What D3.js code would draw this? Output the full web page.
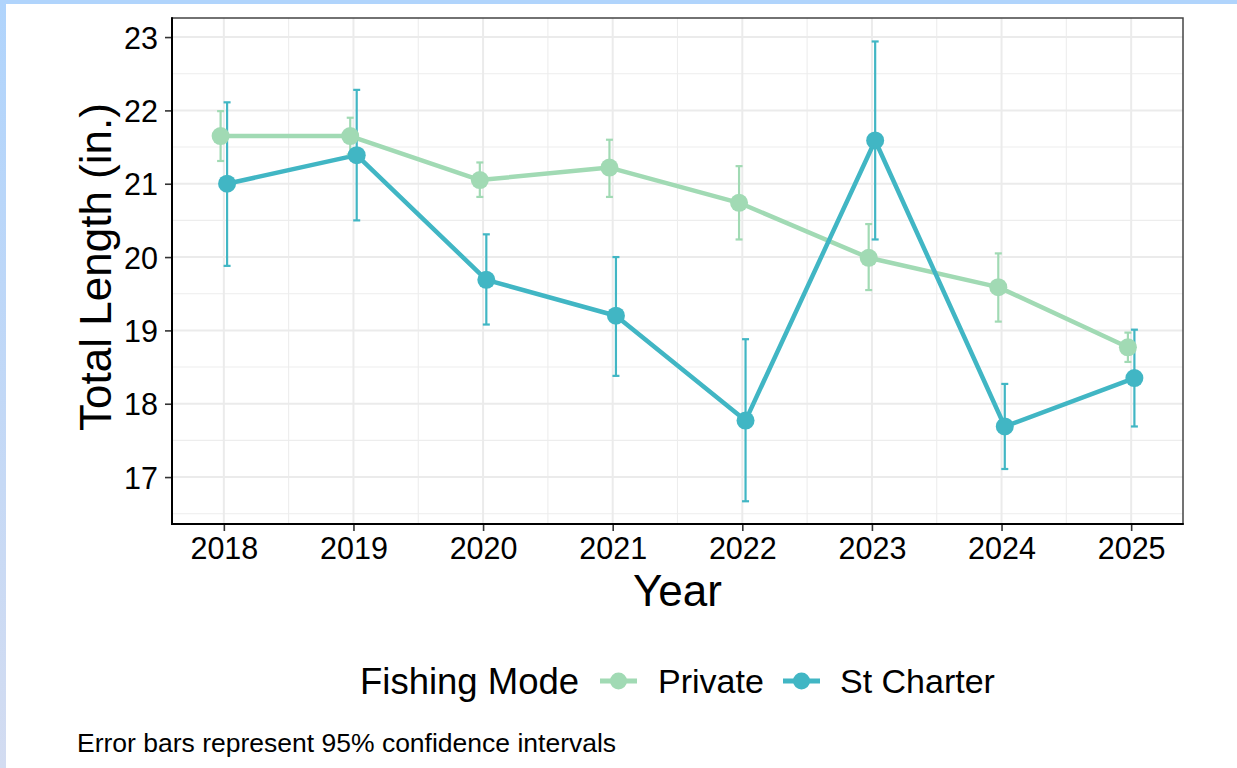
<!DOCTYPE html>
<html>
<head>
<meta charset="utf-8">
<script src="https://cdn.jsdelivr.net/npm/d3@7/dist/d3.min.js"></script>
<style>
  html, body { margin: 0; padding: 0; background: #fff; }
  svg { display: block; }
  text { font-family: "Liberation Sans", Arial, sans-serif; }
</style>
</head>
<body>
<svg id="chart" width="1237" height="768"></svg>
<script>
// ---- data ----
const years = [2018, 2019, 2020, 2021, 2022, 2023, 2024, 2025];
const seriesNames = ["Private", "St Charter"];
const privateMean  = [21.65, 21.65, 21.05, 21.22, 20.74, 19.99, 19.59, 18.77];
const privateLower = [21.31, 21.40, 20.82, 20.82, 20.24, 19.55, 19.12, 18.57];
const privateUpper = [21.99, 21.90, 21.29, 21.60, 21.24, 20.45, 20.05, 18.97];
const charterMean  = [21.00, 21.39, 19.69, 19.20, 17.77, 21.59, 17.69, 18.35];
const charterLower = [19.88, 20.50, 19.08, 18.38, 16.67, 20.24, 17.11, 17.69];
const charterUpper = [22.11, 22.28, 20.31, 20.00, 18.88, 22.94, 18.27, 19.01];
const yTicks = [17, 18, 19, 20, 21, 22, 23];
const colors = ["#a1dab4", "#41b6c4"];

const series = [
  { name: seriesNames[0], mean: privateMean, lo: privateLower, hi: privateUpper, color: colors[0], dodge: -0.025 },
  { name: seriesNames[1], mean: charterMean, lo: charterLower, hi: charterUpper, color: colors[1], dodge: 0.025 }
];

const svg = d3.select("#chart");

// browser-like frame bands
const defs = svg.append("defs");
const grad = defs.append("linearGradient").attr("id", "lb").attr("x1", 0).attr("y1", 0).attr("x2", 0).attr("y2", 1);
grad.append("stop").attr("offset", "0%").attr("stop-color", "#b0d4fc");
grad.append("stop").attr("offset", "100%").attr("stop-color", "#d3dcf1");
svg.append("rect").attr("x", 0).attr("y", 0).attr("width", 1237).attr("height", 4).attr("fill", "#b0d4fc");
svg.append("rect").attr("x", 0).attr("y", 0).attr("width", 6).attr("height", 768).attr("fill", "url(#lb)");

const P = { left: 172, right: 1183, top: 18, bottom: 524 };
const x = d3.scaleLinear().domain([2017.6, 2025.4]).range([P.left, P.right]);
const y = d3.scaleLinear().domain([16.36, 23.26]).range([P.bottom, P.top]);

const g = svg.append("g");
// panel background
g.append("rect").attr("x", P.left).attr("y", P.top).attr("width", P.right - P.left).attr("height", P.bottom - P.top).attr("fill", "#fff");

// minor grid
const yMinor = yTicks.map(v => v - 0.5).concat([23.5]).filter(v => v > y.domain()[0] && v < y.domain()[1]);
const xMinor = years.slice(1).map(v => v - 0.5);
g.selectAll(".ymin").data(yMinor).enter().append("line")
  .attr("x1", P.left).attr("x2", P.right).attr("y1", d => y(d)).attr("y2", d => y(d))
  .attr("stroke", "#ededed").attr("stroke-width", 1.1);
g.selectAll(".xmin").data(xMinor).enter().append("line")
  .attr("y1", P.top).attr("y2", P.bottom).attr("x1", d => x(d)).attr("x2", d => x(d))
  .attr("stroke", "#ededed").attr("stroke-width", 1.1);
// major grid
g.selectAll(".ymaj").data(yTicks).enter().append("line")
  .attr("x1", P.left).attr("x2", P.right).attr("y1", d => y(d)).attr("y2", d => y(d))
  .attr("stroke", "#ebebeb").attr("stroke-width", 2);
g.selectAll(".xmaj").data(years).enter().append("line")
  .attr("y1", P.top).attr("y2", P.bottom).attr("x1", d => x(d)).attr("x2", d => x(d))
  .attr("stroke", "#ebebeb").attr("stroke-width", 2);

// lines
const line = d3.line().x(d => d[0]).y(d => d[1]);
series.forEach(s => {
  const pts = years.map((yr, i) => [x(yr + s.dodge), y(s.mean[i])]);
  g.append("path").attr("d", line(pts)).attr("fill", "none")
    .attr("stroke", s.color).attr("stroke-width", 4.5).attr("stroke-linejoin", "round");
});
// error bars
series.forEach(s => {
  years.forEach((yr, i) => {
    const cx = x(yr + s.dodge);
    const eb = g.append("g").attr("stroke", s.color).attr("stroke-width", 2.2);
    eb.append("line").attr("x1", cx).attr("x2", cx).attr("y1", y(s.lo[i])).attr("y2", y(s.hi[i]));
    eb.append("line").attr("x1", cx - 3.5).attr("x2", cx + 3.5).attr("y1", y(s.lo[i])).attr("y2", y(s.lo[i]));
    eb.append("line").attr("x1", cx - 3.5).attr("x2", cx + 3.5).attr("y1", y(s.hi[i])).attr("y2", y(s.hi[i]));
  });
});
// points
series.forEach(s => {
  g.selectAll(null).data(years).enter().append("circle")
    .attr("cx", (d) => x(d + s.dodge)).attr("cy", (d, i) => y(s.mean[i])).attr("r", 9)
    .attr("fill", s.color);
});

// panel border
g.append("rect").attr("x", P.left).attr("y", P.top).attr("width", P.right - P.left).attr("height", P.bottom - P.top)
  .attr("fill", "none").attr("stroke", "#444").attr("stroke-width", 1.5);

// axes
const yAxis = d3.axisLeft(y).tickValues(yTicks).tickSize(7).tickPadding(7).tickFormat(d3.format("d"));
const yG = svg.append("g").attr("transform", `translate(${P.left},0)`).call(yAxis);
const xAxis = d3.axisBottom(x).tickValues(years).tickSize(7).tickPadding(6).tickFormat(d3.format("d"));
const xG = svg.append("g").attr("transform", `translate(0,${P.bottom})`).call(xAxis);
[yG, xG].forEach(a => {
  a.select(".domain").remove();
  a.selectAll(".tick line").attr("stroke", "#333").attr("stroke-width", 1.6);
  a.selectAll(".tick text").attr("fill", "#000").style("font-size", "30.5px")
   .style("font-family", '"Liberation Sans", Arial, sans-serif');
});
yG.selectAll(".tick text").attr("dy", "0.36em");
xG.selectAll(".tick text").attr("dy", "0.71em");
// axis lines
svg.append("line").attr("x1", P.left).attr("x2", P.left).attr("y1", P.top - 0.75).attr("y2", P.bottom + 1)
  .attr("stroke", "#000").attr("stroke-width", 2);
svg.append("line").attr("x1", P.left - 1).attr("x2", P.right + 0.75).attr("y1", P.bottom).attr("y2", P.bottom)
  .attr("stroke", "#000").attr("stroke-width", 2);

// axis titles
svg.append("text").attr("x", (P.left + P.right) / 2).attr("y", 606).attr("text-anchor", "middle")
  .style("font-size", "44px").attr("fill", "#000").text("Year");
svg.append("text").attr("transform", `translate(111,${(P.top + P.bottom) / 2 - 4}) rotate(-90)`).attr("text-anchor", "middle")
  .style("font-size", "44px").attr("fill", "#000").text("Total Length (in.)");

// legend
const lg = svg.append("g");
lg.append("text").attr("x", 360).attr("y", 694).style("font-size", "36.5px").attr("fill", "#000").text("Fishing Mode");
const keyX = [600, 783];
const labX = [658, 840];
series.forEach((s, i) => {
  lg.append("line").attr("x1", keyX[i]).attr("x2", keyX[i] + 37).attr("y1", 681).attr("y2", 681)
    .attr("stroke", s.color).attr("stroke-width", 5);
  lg.append("circle").attr("cx", keyX[i] + 18.5).attr("cy", 681).attr("r", 8.5).attr("fill", s.color);
  lg.append("text").attr("x", labX[i]).attr("y", 693).style("font-size", "34px").attr("fill", "#000").text(s.name);
});

// caption
svg.append("text").attr("x", 77).attr("y", 752).style("font-size", "26.5px").attr("fill", "#000")
  .text("Error bars represent 95% confidence intervals");
</script>
</body>
</html>
